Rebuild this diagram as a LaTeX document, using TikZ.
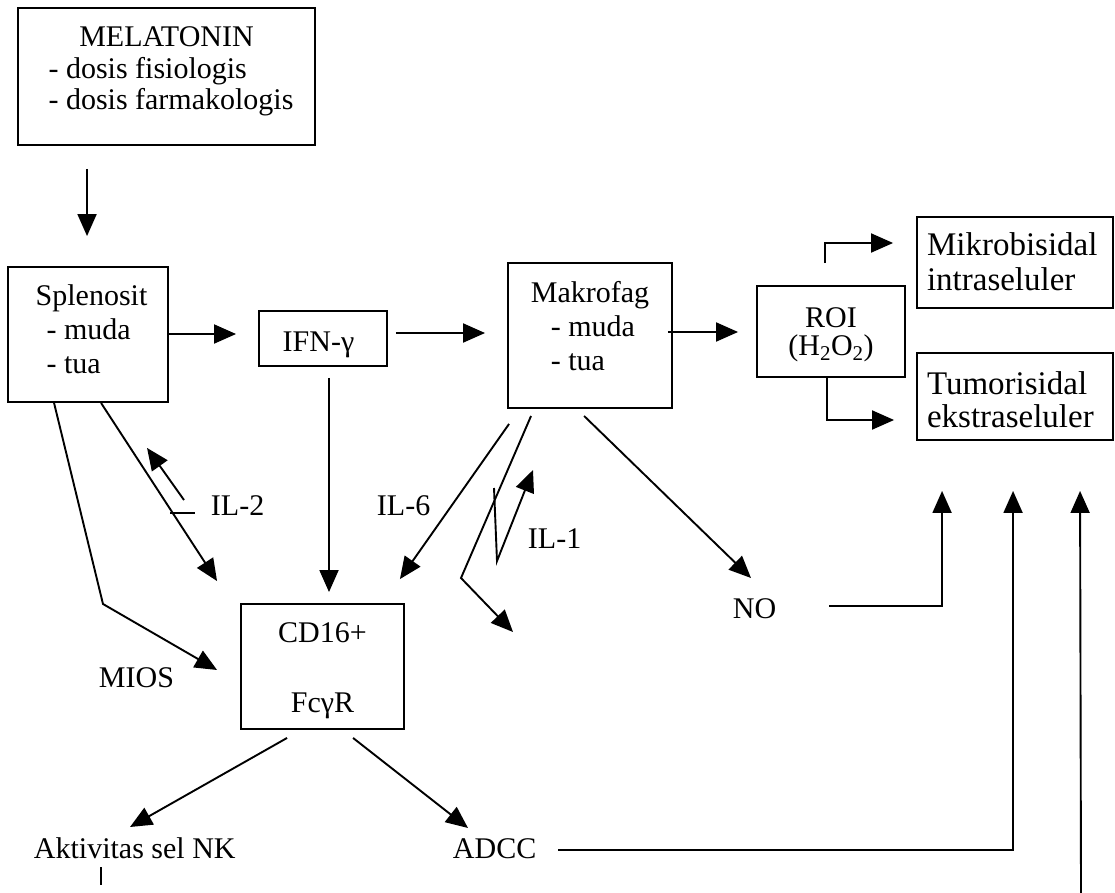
\documentclass[tikz,border=0pt]{standalone}
\usepackage{fontspec}
\setmainfont{Liberation Serif}
\usetikzlibrary{arrows.meta}
\begin{document}
\begin{tikzpicture}[x=1pt,y=-1pt,
  line width=1.9pt,
  font=\fontsize{30}{34}\selectfont,
  arr/.style={-{Triangle[length=22pt,width=19pt]}},
  box/.style={draw, rectangle, inner sep=0pt},
  lbl/.style={inner sep=0pt, anchor=base west}]
\useasboundingbox (0,0) rectangle (1115,893);

% boxes
\node[box, minimum width=297pt, minimum height=137pt, text height=13.45pt, text depth=72.45pt,
      font=\fontsize{30}{31.5}\selectfont] (mel) at (166.5,76.5)
  {\begin{tabular}[t]{@{}l@{}}\multicolumn{1}{@{}c@{}}{MELATONIN}\\ \hspace*{9pt}- dosis fisiologis\\ \hspace*{9pt}- dosis farmakologis\end{tabular}};
\node[box, minimum width=160pt, minimum height=135pt, text height=19.2pt, text depth=78.2pt] (spl) at (88,334.5)
  {\begin{tabular}[t]{@{}l@{}}\hspace*{7pt}Splenosit\\ \hspace*{18pt}- muda\\ \hspace*{18pt}- tua\end{tabular}};
\node[box, minimum width=128pt, minimum height=55pt, text height=25pt, text depth=0pt] (ifn) at (323,338.5)
  {IFN-γ\hspace*{9pt}};
\node[box, minimum width=164pt, minimum height=145pt, text height=11.2pt, text depth=78.2pt] (mak) at (590,335.5)
  {\begin{tabular}[t]{@{}l@{}}Makrofag\\ \hspace*{20pt}- muda\\ \hspace*{20pt}- tua\end{tabular}};
\node[box, minimum width=148pt, minimum height=91pt, text height=24.8pt, text depth=33.8pt,
      font=\fontsize{30}{26}\selectfont] (roi) at (831,331.5)
  {\begin{tabular}[t]{@{}c@{}}ROI\\ (H\textsubscript{2}O\textsubscript{2})\end{tabular}};
\node[box, minimum width=196pt, minimum height=91pt, text height=30.5pt, text depth=45.5pt,
      font=\fontsize{33}{35}\selectfont] (mik) at (1015,262.5)
  {\begin{tabular}[t]{@{}l@{}}\makebox[176pt][l]{Mikrobisidal}\\ intraseluler\end{tabular}};
\node[box, minimum width=196pt, minimum height=87pt, text height=37.9pt, text depth=42.9pt,
      font=\fontsize{33}{33}\selectfont] (tum) at (1015,396.5)
  {\begin{tabular}[t]{@{}l@{}}\makebox[176pt][l]{Tumorisidal}\\ ekstraseluler\end{tabular}};
\node[box, minimum width=163pt, minimum height=125pt, text height=31.2pt, text depth=80.2pt] (cd) at (322.5,666.5)
  {\begin{tabular}[t]{@{}c@{}}CD16+\\[36pt] FcγR\end{tabular}};

% plain labels
\node[lbl] (il2) at (210,515) {IL-2};
\node[lbl] (il6) at (376,515) {IL-6};
\node[lbl] (il1) at (527,548) {IL-1};
\node[lbl] (no) at (732,618) {NO};
\node[lbl] (mios) at (98,687) {MIOS};
\node[lbl] (akt) at (33,858) {Aktivitas sel NK};
\node[lbl] (adcc) at (452,858) {ADCC};
\coordinate (edge) at (1081,893);

% connectors
\draw[arr] ([shift={(70,23)}]mel.south west) -- ([shift={(80,-30)}]spl.north west);
\draw[arr] ([shift={(0,-0.5)}]spl.east) -- ([shift={(-22,-4.5)}]ifn.west);
\draw[arr] ([shift={(8,-5.5)}]ifn.east) -- ([shift={(-22,-2.5)}]mak.west);
\draw[arr] ([shift={(-5,-3.5)}]mak.east) -- ([shift={(-18,0.5)}]roi.west);
\draw[arr] ([shift={(69,-22)}]roi.north west) |- ([shift={(-23,-19.5)}]mik.west);
\draw[arr] ([shift={(71,0)}]roi.south west) |- ([shift={(-22,23.5)}]tum.west);
\draw[arr] ([shift={(6,11)}]ifn.south) -- ([shift={(6.5,-11)}]cd.north);
% IL-2
\draw[arr] ([shift={(94,0)}]spl.south west) -- ([shift={(-23,-22)}]cd.north west);
\draw[arr] ([shift={(-26,-15)}]il2.base west) -- ([shift={(140,45)}]spl.south west);
\draw ([shift={(-40,-2)}]il2.base west) -- ([shift={(-15,-2)}]il2.base west);
% MIOS
\draw[arr] ([shift={(47,0)}]spl.south west) -- (103,604) -- ([shift={(-23,3.5)}]cd.west);
% IL-6
\draw[arr] ([shift={(2,15)}]mak.south west) -- ([shift={(-5,-24)}]cd.north east);
% IL-1
\draw[arr] ([shift={(24,7)}]mak.south west) -- ([shift={(-66,30)}]il1.base west) -- ([shift={(-14,84)}]il1.base west);
\draw[arr] ([shift={(-33,-60)}]il1.base west) -- ([shift={(-30,13)}]il1.base west) -- ([shift={(6,-78)}]il1.base west);
% NO
\draw[arr] ([shift={(77,7)}]mak.south west) -- ([shift={(19,-40)}]no.base west);
\draw[arr] ([shift={(97,-12)}]no.base west) -| ([shift={(26,50)}]tum.south west);
% CD16 outputs
\draw[arr] ([shift={(47,8)}]cd.south west) -- ([shift={(97,-31)}]akt.base west);
\draw[arr] ([shift={(113,8)}]cd.south west) -- ([shift={(16,-30)}]adcc.base west);
\draw[arr] ([shift={(106,-8)}]adcc.base west) -| ([shift={(97,50)}]tum.south west);
\draw ([shift={(68,9)}]akt.base west) -- ([shift={(68,27)}]akt.base west);
\draw[arr] (edge) -- ([shift={(164,50)}]tum.south west);
\end{tikzpicture}
\end{document}
